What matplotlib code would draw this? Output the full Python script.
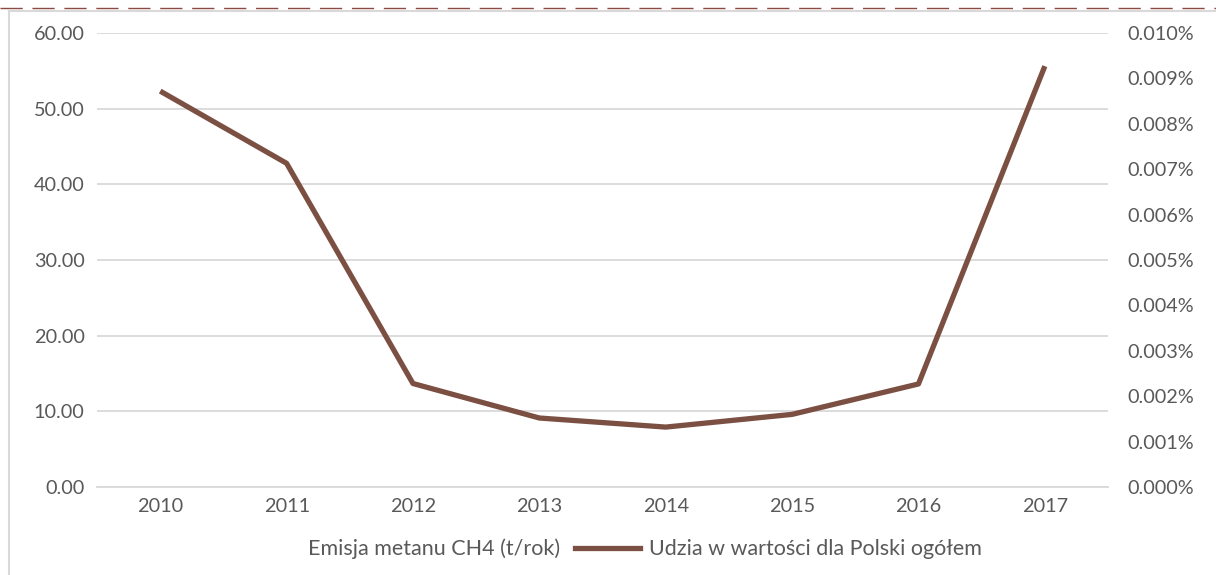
import numpy as np
import matplotlib
matplotlib.use('Agg')
import matplotlib.pyplot as plt
from matplotlib.lines import Line2D
from matplotlib.patches import Patch
from matplotlib.ticker import FuncFormatter

plt.rcParams['font.family'] = ['Lato', 'DejaVu Sans']

# data
years = ['2010', '2011', '2012', '2013', '2014', '2015', '2016', '2017']
emisja_ch4 = [0, 0, 0, 0, 0, 0, 0, 0]          # bars not visible in reference
udzial_pct = [0.00872, 0.00713, 0.00228, 0.00152,
              0.00132, 0.00160, 0.00227, 0.00927]  # share, in %

left_ticks = [0, 10, 20, 30, 40, 50, 60]
right_ticks = [0.000, 0.001, 0.002, 0.003, 0.004, 0.005,
               0.006, 0.007, 0.008, 0.009, 0.010]

TXT = '#595959'
GRID = '#D9D9D9'
LINE = '#7B5043'

fig = plt.figure(figsize=(12.16, 5.75), dpi=100)
ax = fig.add_axes([0.0798, 0.153, 0.8314, 0.7896])
x = np.arange(len(years))

ax.bar(x, emisja_ch4, width=0.6, color='none')
ax.set_xlim(-0.5, len(years) - 0.5)
ax.set_ylim(0, 60)
ax.set_yticks(left_ticks)
ax.yaxis.set_major_formatter(FuncFormatter(lambda v, p: f'{v:.2f}'))
ax.set_xticks(x)
ax.set_xticklabels(years)
ax.grid(axis='y', color=GRID, lw=1.3)
ax.set_axisbelow(True)
for s in ax.spines.values():
    s.set_visible(False)
ax.spines['bottom'].set_visible(True)
ax.spines['bottom'].set_color(GRID)
ax.spines['bottom'].set_linewidth(1.3)
ax.tick_params(length=0, colors=TXT, labelsize=14.3)
ax.tick_params(axis='y', pad=9)
ax.tick_params(axis='x', pad=8)

ax2 = ax.twinx()
ax2.plot(x, udzial_pct, color=LINE, lw=3.8, solid_capstyle='butt')
ax2.set_ylim(0, 0.010)
ax2.set_yticks(right_ticks)
ax2.yaxis.set_major_formatter(FuncFormatter(lambda v, p: f'{v:.3f}%'))
for s in ax2.spines.values():
    s.set_visible(False)
ax2.tick_params(length=0, colors=TXT, labelsize=14.3, pad=14)

handles = [Patch(facecolor='none', edgecolor='none'),
           Line2D([0], [0], color=LINE, lw=3.8)]
labels = ['Emisja metanu CH4 (t/rok)', 'Udzia w wartości dla Polski ogółem']
fig.legend(handles, labels, loc='center', bbox_to_anchor=(0.5, 0.045),
           ncol=2, frameon=False, fontsize=15.5, labelcolor=TXT,
           handlelength=3.0, handletextpad=0.45, columnspacing=0.7)

# frame remnants at top/left of the original screenshot
fig.add_artist(Line2D([0.007, 1.0], [1 - 10.5 / 575] * 2, color=GRID, lw=1.5))
fig.add_artist(Line2D([0.007, 0.007], [0, 1 - 10.5 / 575], color=GRID, lw=1.5))
fig.add_artist(Line2D([0, 1.0], [1 - 8 / 575] * 2, color='#8B4A42', lw=1.0,
                      ls=(0, (16, 7))))

fig.savefig('out.png', dpi=100)
